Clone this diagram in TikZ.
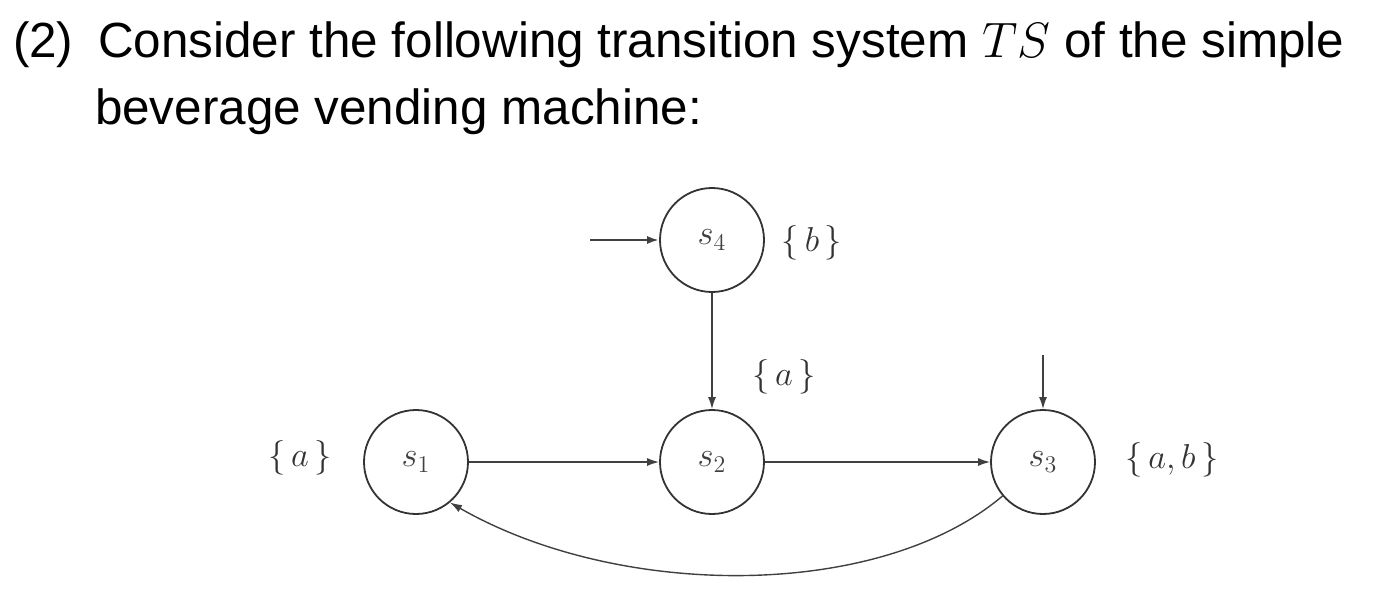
\documentclass[tikz,border=0pt]{standalone}
\usepackage{fontspec}
\setmainfont{Liberation Sans}
\newfontfamily\lmr{Latin Modern Roman}
\usetikzlibrary{arrows.meta}
\begin{document}
\begin{tikzpicture}[x=0.5pt,y=-0.5pt,
  st/.style={circle,draw=black!80,line width=0.9pt,minimum size=52pt,inner sep=0pt,font=\lmr\fontsize{17}{20}\selectfont,text=black!75},
  lab/.style={font=\lmr\fontsize{19}{22}\selectfont,text=black!80},
  tr/.style={-{Latex[length=6pt,width=4pt]},line width=0.7pt,draw=black!75}]
\useasboundingbox (0,0) rectangle (1378,596);
\node[anchor=west,font=\fontsize{24.7}{30}\selectfont] (l1) at (6,45) {(2)\enspace Consider the following transition system $TS$ of the simple};
\node[anchor=west,font=\fontsize{24.7}{30}\selectfont] (l2) at (88,112) {beverage vending machine:};
\node[st] (s4) at (712,240) {$s_4$};
\node[st] (s1) at (416,462) {$s_1$};
\node[st] (s2) at (712,462) {$s_2$};
\node[st] (s3) at (1043,462) {$s_3$};
\node[lab] (b4) at (812,243) {$\{\,b\,\}$};
\node[lab] (a2) at (784,377) {$\{\,a\,\}$};
\node[lab] (a1) at (300,458) {$\{\,a\,\}$};
\node[lab] (ab3) at (1172,460) {$\{\,a,b\,\}$};
\coordinate (i4) at (590,240);
\coordinate (i3) at (1043,355);
\draw[tr,line width=1.1pt] (i4) -- (s4);
\draw[tr] (i3) -- (s3);
\draw[tr] (s4) -- (s2);
\draw[tr] (s1) -- (s2);
\draw[tr] (s2) -- (s3);
\draw[tr] (s3.-140) .. controls (880,600) and (620,600) .. (s1.-50);
\end{tikzpicture}
\end{document}
